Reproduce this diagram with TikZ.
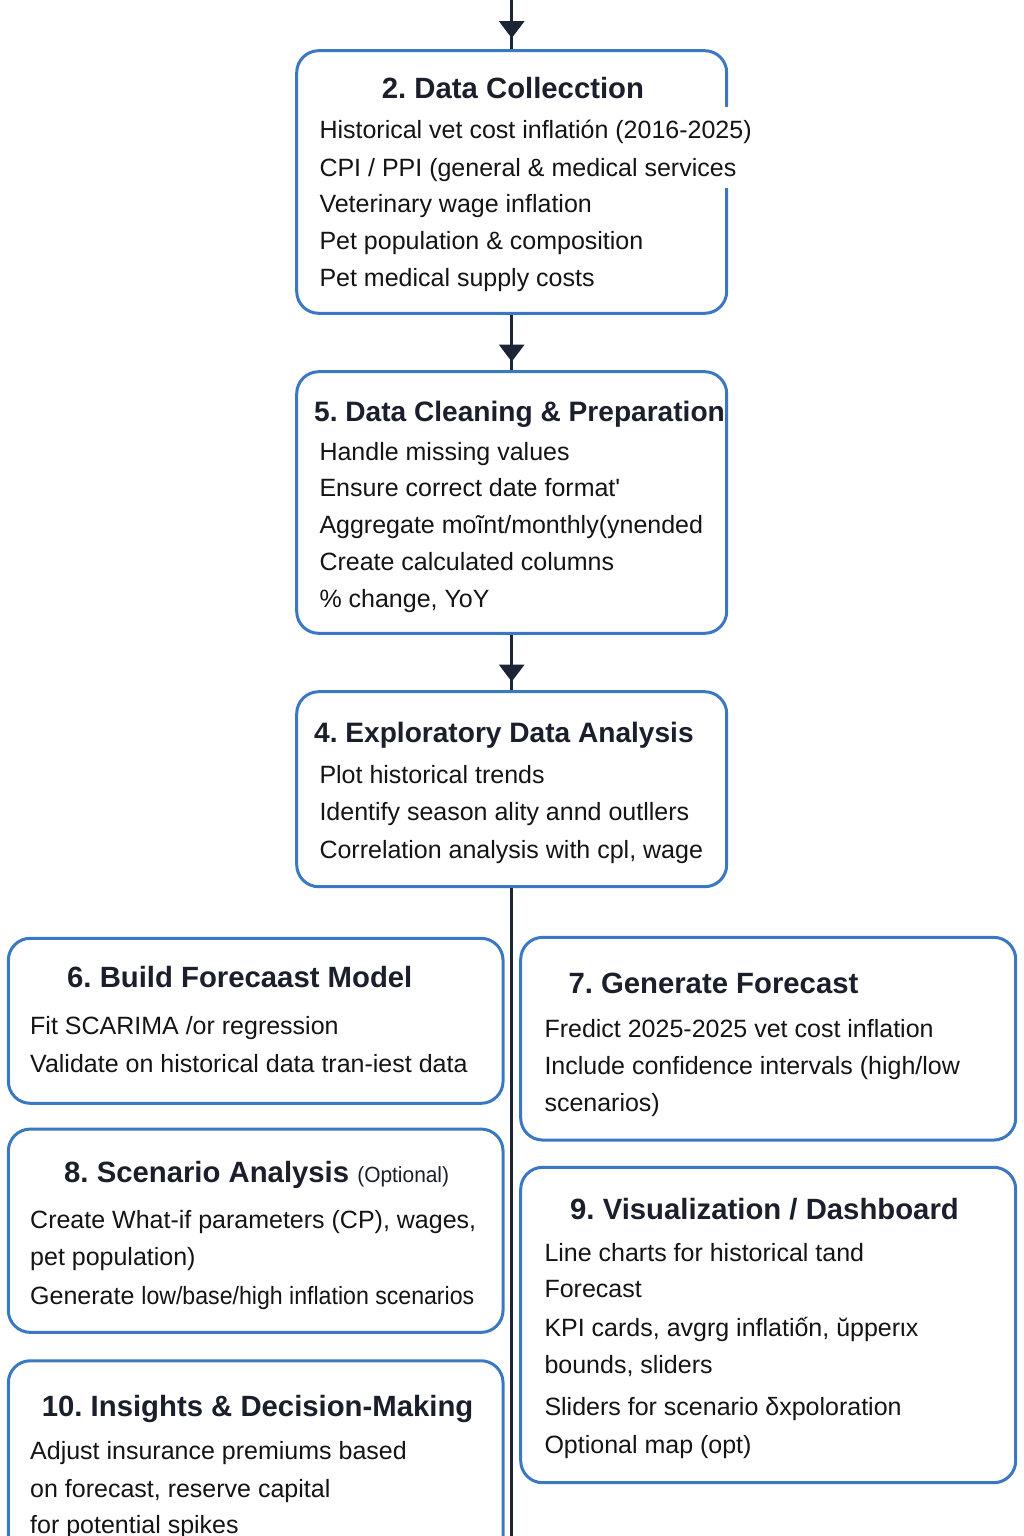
\documentclass[tikz,border=0pt]{standalone}
\usepackage{fontspec}
\setmainfont{Liberation Sans}
\usetikzlibrary{arrows.meta}
\definecolor{boxblue}{HTML}{3B78C2}
\definecolor{linedark}{HTML}{1C2536}
\definecolor{titlecol}{HTML}{1A1F2B}
\definecolor{bodycol}{HTML}{141414}
\frenchspacing
\tikzset{
  box/.style={draw=boxblue, line width=3pt, rounded corners=22pt, inner sep=0pt, fill=white},
  ttl/.style={anchor=base west, inner sep=0pt, text=titlecol, font=\fontsize{29.3}{35}\selectfont\bfseries},
  ttls/.style={anchor=base west, inner sep=0pt, text=titlecol, font=\fontsize{28.1}{34}\selectfont\bfseries},
  body/.style={anchor=base west, inner sep=0pt, text=bodycol, font=\fontsize{25}{30}\selectfont},
  conn/.style={draw=linedark, line width=2.5pt},
  tip/.style={draw=linedark, line width=2.5pt, -{Triangle[length=17pt,width=25pt]}}
}
\begin{document}
\begin{tikzpicture}[x=1pt,y=-1pt]
\useasboundingbox (0,0) rectangle (1024,1536);
\clip (0,0) rectangle (1024,1536);
\fill[white] (0,0) rectangle (1024,1536);

% boxes
\node[box, minimum width=430pt, minimum height=262.6pt] (b2) at (511.7,182) {};
\node[box, minimum width=430pt, minimum height=261.6pt] (b5) at (511.7,502.5) {};
\node[box, minimum width=430pt, minimum height=195pt] (b4) at (511.7,789.2) {};
\node[box, minimum width=494.7pt, minimum height=165pt] (b6) at (255.7,1020.8) {};
\node[box, minimum width=494.7pt, minimum height=203.3pt] (b8) at (255.7,1230.7) {};
\node[box, minimum width=494.7pt, minimum height=219.3pt] (b10) at (255.7,1470.4) {};
\node[box, minimum width=495pt, minimum height=202.7pt] (b7) at (768.2,1038.7) {};
\node[box, minimum width=495pt, minimum height=315.4pt] (b9) at (768.2,1325) {};

% connectors
\coordinate (top) at (511.7,0);
\coordinate (bottom) at (511.7,1536);
\draw[conn] (top) -- (b2.north);
\draw[tip, shorten >=11pt] (top) -- (b2.north);
\draw[conn] (b2.south) -- (b5.north);
\draw[tip, shorten >=8.5pt] (b2.south) -- (b5.north);
\draw[conn] (b5.south) -- (b4.north);
\draw[tip, shorten >=8.5pt] (b5.south) -- (b4.north);
\draw[conn] (b4.south) -- (bottom);

% gap in box 2 right border where text overflows
\fill[white] (720,106.7) rectangle (734,188.3);

% Box 2
\node[ttl] (t2) at (381.7,99) {2. Data Collecction};
\node[body] (l2a) at (319.3,139) {Historical vet cost inflatión (2016-2025)};
\node[body] (l2b) at (319.3,176) {CPI / PPI (general \& medical services};
\node[body] (l2c) at (319.3,212) {Veterinary wage inflation};
\node[body] (l2d) at (319.3,249) {Pet population \& composition};
\node[body] (l2e) at (319.3,286) {Pet medical supply costs};

% Box 5
\node[ttls] (t5) at (314,421) {5. Data Cleaning \& Preparation};
\node[body] (l5a) at (319.3,460) {Handle missing values};
\node[body] (l5b) at (319.3,496) {Ensure correct date format\textquotesingle};
\node[body] (l5c) at (319.3,533) {Aggregate moĩnt/monthly(ynended};
\node[body] (l5d) at (319.3,570) {Create calculated columns};
\node[body] (l5e) at (319.3,607) {\% change, YoY};

% Box 4
\node[ttls] (t4) at (314,742) {4. Exploratory Data Analysis};
\node[body] (l4a) at (319.3,783) {Plot historical trends};
\node[body] (l4b) at (319.3,820) {Identify season ality annd outllers};
\node[body] (l4c) at (319.3,858) {Correlation analysis with cpl, wage};

% Box 6
\node[ttl] (t6) at (67,987) {6. Build Forecaast Model};
\node[body] (l6a) at (30,1034) {Fit SCARIMA /or regression};
\node[body] (l6b) at (30,1072) {Validate on historical data tran-iest data};

% Box 8
\node[ttl] (t8) at (64,1182) {8. Scenario Analysis {\fontsize{22}{26}\selectfont\mdseries\scalebox{0.95}[1]{(Optional)}}};
\node[body] (l8a) at (30,1228) {Create What-if parameters (CP), wages,};
\node[body] (l8b) at (30,1265) {pet population)};
\node[body] (l8c) at (30,1304) {Generate \scalebox{0.925}[1]{low/base/high inflation scenarios}};

% Box 10
\node[ttl] (t10) at (41.7,1416) {10. Insights \& Decision-Making};
\node[body] (l10a) at (30,1459) {Adjust insurance premiums based};
\node[body] (l10b) at (30,1497) {on forecast, reserve capital};
\node[body] (l10c) at (30,1533) {for potential spikes};

% Box 7
\node[ttl] (t7) at (568.3,993) {7. Generate Forecast};
\node[body] (l7a) at (544.3,1037) {Fredict 2025-2025 vet cost inflation};
\node[body] (l7b) at (544.3,1074) {Include confidence intervals (high/low};
\node[body] (l7c) at (544.3,1111.7) {scenarios)};

% Box 9
\node[ttl] (t9) at (570,1219) {9. Visualization / Dashboard};
\node[body] (l9a) at (544.3,1261.7) {Line charts for historical tand};
\node[body] (l9b) at (544.3,1297) {Forecast};
\node[body] (l9c) at (544.3,1336) {KPI cards, avgrg inflatiốn, ŭpperιx};
\node[body] (l9d) at (544.3,1373) {bounds, sliders};
\node[body] (l9e) at (544.3,1415) {Sliders for scenario δxpoloration};
\node[body] (l9f) at (544.3,1453) {Optional map (opt)};
\end{tikzpicture}
\end{document}
